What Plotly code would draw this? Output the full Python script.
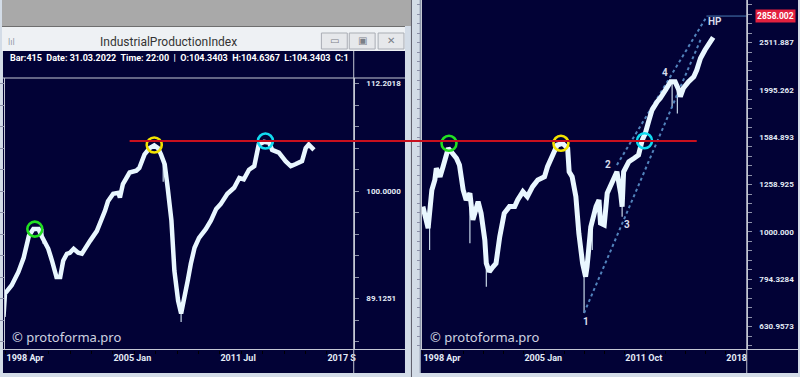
import math
import plotly.graph_objects as go

W, H = 800, 377

# ---------------- data ----------------
# left window: Industrial Production Index (bar index, value)
left_bars = [2, 4, 13, 22, 29, 36, 42, 49, 53, 62, 67, 73, 78, 82, 87, 91, 96, 102, 107, 111,
             118, 127, 133, 138, 142, 149, 156, 158, 162, 167, 171, 180, 184, 191, 198, 204, 209, 213, 218, 222,
             227, 231, 236, 240, 244, 249, 253, 258, 264, 273, 280, 287, 293, 302, 311, 318, 324, 331, 338, 342,
             344, 351, 358, 362, 371, 380, 387, 393, 402, 407, 411, 418]
left_values = [87.4, 89.6, 90.4, 91.7, 93.1, 95.3, 96.0, 96.0, 95.3, 94.0, 92.8, 91.2, 91.2, 92.8, 93.5, 93.6, 94.0, 93.6, 93.5, 94.0,
               94.8, 95.8, 96.9, 97.9, 98.9, 99.7, 99.8, 99.3, 100.75, 101.6, 102.0, 102.2, 102.5, 104.0, 104.7, 105.0, 104.7, 104.0, 102.9, 100.35,
               96.9, 91.8, 88.9, 87.7, 88.9, 90.9, 92.5, 94.1, 95.1, 96.0, 96.9, 98.1, 98.6, 99.7, 100.35, 101.4, 101.25, 102.3, 102.7, 104.0,
               105.1, 105.4, 105.3, 104.5, 104.2, 103.25, 102.7, 102.9, 103.25, 104.7, 105.1, 104.5]
left_wick_bars = [240, 216, 55]
left_wick_lows = [86.9, 101.0, 94.5]
left_wick_highs = [87.7, 103.5, 96.0]

# right window: index (bar index, value)
right_bars = [4, 9, 11, 16, 20, 22, 27, 31, 38, 42, 49, 53, 58, 62, 67, 71, 73, 78, 82, 87,
              89, 93, 98, 102, 107, 113, 120, 127, 131, 138, 144, 151, 158, 167, 171, 178, 184, 191, 198, 200,
              204, 209, 213, 218, 222, 224, 229, 236, 240, 242, 247, 251, 258, 264, 269, 271, 273, 280, 287, 293,
              298, 302, 307, 311, 318, 322, 329, 336, 342, 347, 349, 353, 360, 367, 371, 376, 382, 389, 393]
right_values = [1131, 1025, 1018, 1226, 1287, 1363, 1308, 1373, 1502, 1477, 1431, 1385, 1226, 1168, 1207, 1060, 1095, 1158, 1095, 961,
                858, 824, 844, 858, 977, 1095, 1131, 1131, 1168, 1216, 1187, 1246, 1287, 1308, 1373, 1454, 1526, 1539, 1502, 1340,
                1308, 1187, 993, 858, 804, 844, 1025, 1131, 1168, 1043, 1034, 1207, 1287, 1340, 1207, 1131, 1340, 1407, 1431, 1454,
                1564, 1615, 1723, 1809, 1884, 1916, 1994, 2076, 2076, 1994, 1931, 2011, 2076, 2128, 2198, 2327, 2423, 2523, 2577]
right_wick_bars = [13, 67, 89, 220, 231, 271, 338, 345]
right_wick_lows = [916, 946, 766, 674, 916, 1077, 1830, 1780]
right_wick_highs = [1030, 1207, 858, 810, 1025, 1150, 2076, 2000]

# trend channel (dotted), HP level, wave labels
lower_trend_bars = [220, 376]
lower_trend_values = [674, 2544]
upper_trend_bars = [264, 384]
upper_trend_values = [1385, 2845]
hp_value = 2858.002
hp_bar_start = 384
wave_labels = ["1", "2", "3", "4", "HP"]
wave_bars = [223, 252, 278, 328, 396]
wave_values = [648, 1391, 1039, 2170, 2777]

# highlighted peaks
left_peak_bars = [44, 204, 353]
left_peak_values = [96.0, 105.05, 105.5]
right_peak_bars = [39, 189, 301]
right_peak_values = [1539, 1539, 1558]
peak_colors = ["#22e022", "#f2e200", "#12dcf0"]

resistance_left = 105.5
resistance_start_bar = 171
resistance_end_bar = 371

# tick labels
left_tick_labels = ["1998 Apr", "2005 Jan", "2011 Jul", "2017 S"]
right_tick_labels = ["1998 Apr", "2005 Jan", "2011 Oct", "2018"]
left_y_labels = {-5: "89.1251", 0: "100.0000", 5: "112.2018"}
right_y_labels = {-10: "630.9573", -5: "794.3284", 0: "1000.000", 5: "1258.925",
                  10: "1584.893", 15: "1995.262", 20: "2511.887"}

# ---------------- styling / geometry ----------------
NAVY = "#020236"
LINE = "#e9f7ff"
FRAME = "#d3dce7"
SEP = "#c4c8d4"
TXT = "#e4ecf6"

def X(px):
    return px / W

def Y(py):
    return 1 - py / H

# left plot area
L_dom_x = [X(3), X(353.5)]
L_dom_y = [Y(349.5), Y(78)]
L_rx = [4.0, 471.3]
L_ry = [2 + (191 - 349.5) / 2150, 2 + (191 - 78) / 2150]
# right plot area
R_dom_x = [X(422), X(748.5)]
R_dom_y = [Y(349.5), 1.0]
R_rx = [(422 - 420) * 4 / 3, (748.5 - 420) * 4 / 3]
R_ry = [3 + (231.9 - 349.5) / 473.3, 3 + 231.9 / 473.3]

fig = go.Figure()

# ----- traces: left -----
wx, wy = [], []
for b, lo, hi in zip(left_wick_bars, left_wick_lows, left_wick_highs):
    wx += [b, b, None]
    wy += [lo, hi, None]
fig.add_trace(go.Scatter(x=wx, y=wy, mode="lines", line=dict(color="#c8d8e8", width=1.2),
                         xaxis="x", yaxis="y", hoverinfo="skip"))
fig.add_trace(go.Scatter(x=left_bars, y=left_values, mode="lines",
                         line=dict(color=LINE, width=4.5), xaxis="x", yaxis="y"))
fig.add_trace(go.Scatter(x=left_peak_bars, y=left_peak_values, mode="markers",
                         marker=dict(symbol="circle-open", size=15, color=peak_colors,
                                     line=dict(width=2.6, color=peak_colors)),
                         xaxis="x", yaxis="y"))

# ----- traces: right -----
wx, wy = [], []
for b, lo, hi in zip(right_wick_bars, right_wick_lows, right_wick_highs):
    wx += [b, b, None]
    wy += [lo, hi, None]
fig.add_trace(go.Scatter(x=wx, y=wy, mode="lines", line=dict(color="#c8d8e8", width=1.2),
                         xaxis="x2", yaxis="y2", hoverinfo="skip"))
fig.add_trace(go.Scatter(x=lower_trend_bars, y=lower_trend_values, mode="lines",
                         line=dict(color="#5283bc", width=2, dash="dot"), xaxis="x2", yaxis="y2"))
fig.add_trace(go.Scatter(x=upper_trend_bars, y=upper_trend_values, mode="lines",
                         line=dict(color="#5283bc", width=2, dash="dot"), xaxis="x2", yaxis="y2"))
fig.add_trace(go.Scatter(x=[hp_bar_start, R_rx[1]], y=[hp_value, hp_value], mode="lines",
                         line=dict(color="#4a7cb4", width=1), xaxis="x2", yaxis="y2"))
fig.add_trace(go.Scatter(x=right_bars, y=right_values, mode="lines",
                         line=dict(color=LINE, width=5), xaxis="x2", yaxis="y2"))
fig.add_trace(go.Scatter(x=right_peak_bars, y=right_peak_values, mode="markers",
                         marker=dict(symbol="circle-open", size=15, color=peak_colors,
                                     line=dict(width=2.6, color=peak_colors)),
                         xaxis="x2", yaxis="y2"))

# ----- ticks -----
l_step = 21.5 * 4 / 3
l_t0 = 4 * 4 / 3 + 0.0
l_tickvals = [l_t0 + k * l_step for k in range(17)]
l_ticktext = [left_tick_labels[k // 5] if k % 5 == 0 and k // 5 < len(left_tick_labels) else "" for k in range(17)]
r_step = 20.3 * 4 / 3
r_t0 = (423 - 420) * 4 / 3
r_tickvals = [r_t0 + k * r_step for k in range(17)]
r_ticktext = [right_tick_labels[k // 5] if k % 5 == 0 and k // 5 < len(right_tick_labels) else "" for k in range(17)]

ly_vals = [10 ** (2 + 0.01 * k) for k in range(-7, 6)]
ly_text = [left_y_labels.get(k, "") for k in range(-7, 6)]
ry_vals = [10 ** (3 + 0.02 * k) for k in range(-12, 25)]
ry_text = [right_y_labels.get(k, "") for k in range(-12, 25)]

xtickfont = dict(family="Roboto", size=9, color=TXT, weight="bold")
ytickfont = dict(family="Roboto", size=8, color=TXT, weight="bold")

common_x = dict(showgrid=False, zeroline=False, showline=False, ticks="outside", ticklen=3,
                tickcolor="#000000", tickfont=xtickfont, ticklabelposition="outside right",
                tickmode="array", fixedrange=True)
common_y = dict(type="log", showgrid=False, zeroline=False, showline=True, linecolor=SEP,
                linewidth=1, mirror="allticks", ticks="outside", ticklen=4, tickcolor="#8c90a8",
                side="right", tickfont=ytickfont, tickmode="array", ticklabelstandoff=6,
                fixedrange=True)

fig.update_layout(
    width=W, height=H, margin=dict(l=0, r=0, t=0, b=0),
    paper_bgcolor=FRAME, plot_bgcolor=NAVY, showlegend=False, hovermode=False,
    xaxis=dict(common_x, domain=L_dom_x, range=L_rx, anchor="y", tickvals=l_tickvals, ticktext=l_ticktext),
    yaxis=dict(common_y, domain=L_dom_y, range=L_ry, anchor="x", tickvals=ly_vals, ticktext=ly_text),
    xaxis2=dict(common_x, domain=R_dom_x, range=R_rx, anchor="y2", tickvals=r_tickvals, ticktext=r_ticktext),
    yaxis2=dict(common_y, domain=R_dom_y, range=R_ry, anchor="x2", tickvals=ry_vals, ticktext=ry_text),
)

# ----- window chrome -----
shapes = []
def rect(x0, y0, x1, y1, fill, line=None, layer="below"):
    shapes.append(dict(type="rect", xref="paper", yref="paper", x0=X(x0), x1=X(x1), y0=Y(y1), y1=Y(y0),
                       fillcolor=fill, line=dict(width=1 if line else 0, color=line or fill), layer=layer))
def hline(x0, x1, y, color=SEP, width=1, layer="above"):
    shapes.append(dict(type="line", xref="paper", yref="paper", x0=X(x0), x1=X(x1), y0=Y(y), y1=Y(y),
                       line=dict(color=color, width=width), layer=layer))
def vline(x, y0, y1, color=SEP, width=1, layer="above"):
    shapes.append(dict(type="line", xref="paper", yref="paper", x0=X(x), x1=X(x), y0=Y(y0), y1=Y(y1),
                       line=dict(color=color, width=width), layer=layer))

rect(0, 0, 411, 26, "#a9a9a9")
rect(0, 26, 405, 51, "#eef1f4")
hline(0, 405, 26.5, "#6e6e6e", 1, "below")
rect(1, 51, 405, 373, NAVY)
rect(420, 0, 800, 373, NAVY)
vline(411.5, 0, 377, "#5a5a66", 1, "below")
vline(420.5, 0, 373, "#9aa6b8", 1, "below")
# separators
hline(1, 405, 78, SEP)
hline(1, 405, 349.5, SEP)
vline(353.5, 51, 373, SEP)
hline(420, 800, 349.5, SEP)
vline(748.5, 0, 373, SEP)
# title buttons
for bx0, bx1 in [(321, 347), (349, 375), (378, 404)]:
    rect(bx0, 33, bx1, 49, "#e6e8eb", "#a9adb4", "below")

# resistance line across both windows (level from the left axis)
def lx_to_paper(b):
    return L_dom_x[0] + (b - L_rx[0]) / (L_rx[1] - L_rx[0]) * (L_dom_x[1] - L_dom_x[0])
def rx_to_paper(b):
    return R_dom_x[0] + (b - R_rx[0]) / (R_rx[1] - R_rx[0]) * (R_dom_x[1] - R_dom_x[0])
res_y = L_dom_y[0] + (math.log10(resistance_left) - L_ry[0]) / (L_ry[1] - L_ry[0]) * (L_dom_y[1] - L_dom_y[0])
shapes.append(dict(type="line", xref="paper", yref="paper", x0=lx_to_paper(resistance_start_bar),
                   x1=rx_to_paper(resistance_end_bar), y0=res_y, y1=res_y,
                   line=dict(color="#c8101e", width=2), layer="above"))
fig.update_layout(shapes=shapes)

# ----- annotations -----
ann = []
ann.append(dict(xref="paper", yref="paper", x=X(167), y=Y(42), xanchor="center", yanchor="middle",
                text="IndustrialProductionIndex",
                showarrow=False, font=dict(family="Roboto", size=12, color="#333333")))
ann.append(dict(xref="paper", yref="paper", x=X(6), y=Y(58.5), xanchor="left", yanchor="middle",
                text="Bar:415  Date: 31.03.2022  Time: 22:00  |  O:104.3403  H:104.6367  L:104.3403  C:1",
                showarrow=False, font=dict(family="Roboto", size=9, color="#ffffff", weight="bold")))
for bx, g in [(334, "▭"), (362, "▣"), (391, "✕")]:
    ann.append(dict(xref="paper", yref="paper", x=X(bx), y=Y(41), xanchor="center", yanchor="middle",
                    text=g, showarrow=False,
                    font=dict(family="DejaVu Sans", size=10, color="#7a7f88")))
ann.append(dict(xref="paper", yref="paper", x=X(4), y=Y(42), text="lıl", showarrow=False,
                xanchor="left", yanchor="middle",
                font=dict(family="DejaVu Sans", size=8, color="#9098a4")))
for x0 in (8, 428):
    ann.append(dict(xref="paper", yref="paper", x=X(x0), y=Y(336.5), xanchor="left", yanchor="middle",
                    text="© protoforma.pro", showarrow=False,
                    font=dict(family="Noto Sans", size=13, color="#cfd3e0")))
for t, b, v in zip(wave_labels, wave_bars, wave_values):
    ann.append(dict(xref="x2", yref="y2", x=b, y=math.log10(v), text=t, showarrow=False,
                    xanchor="center", yanchor="middle",
                    font=dict(family="Roboto", size=10, color="#d8dcec", weight="bold")))
ann.append(dict(xref="paper", yref="y2", x=X(757), y=math.log10(hp_value), xanchor="left", yanchor="middle",
                text="2858.002", showarrow=False, bgcolor="#e3213f", borderpad=1,
                font=dict(family="Roboto", size=8.5, color="#ffffff", weight="bold")))
fig.update_layout(annotations=ann)

fig.write_html("out.html", config={"displayModeBar": False, "staticPlot": True},
               post_script="document.body.style.margin='0px';document.body.style.padding='0px';")
